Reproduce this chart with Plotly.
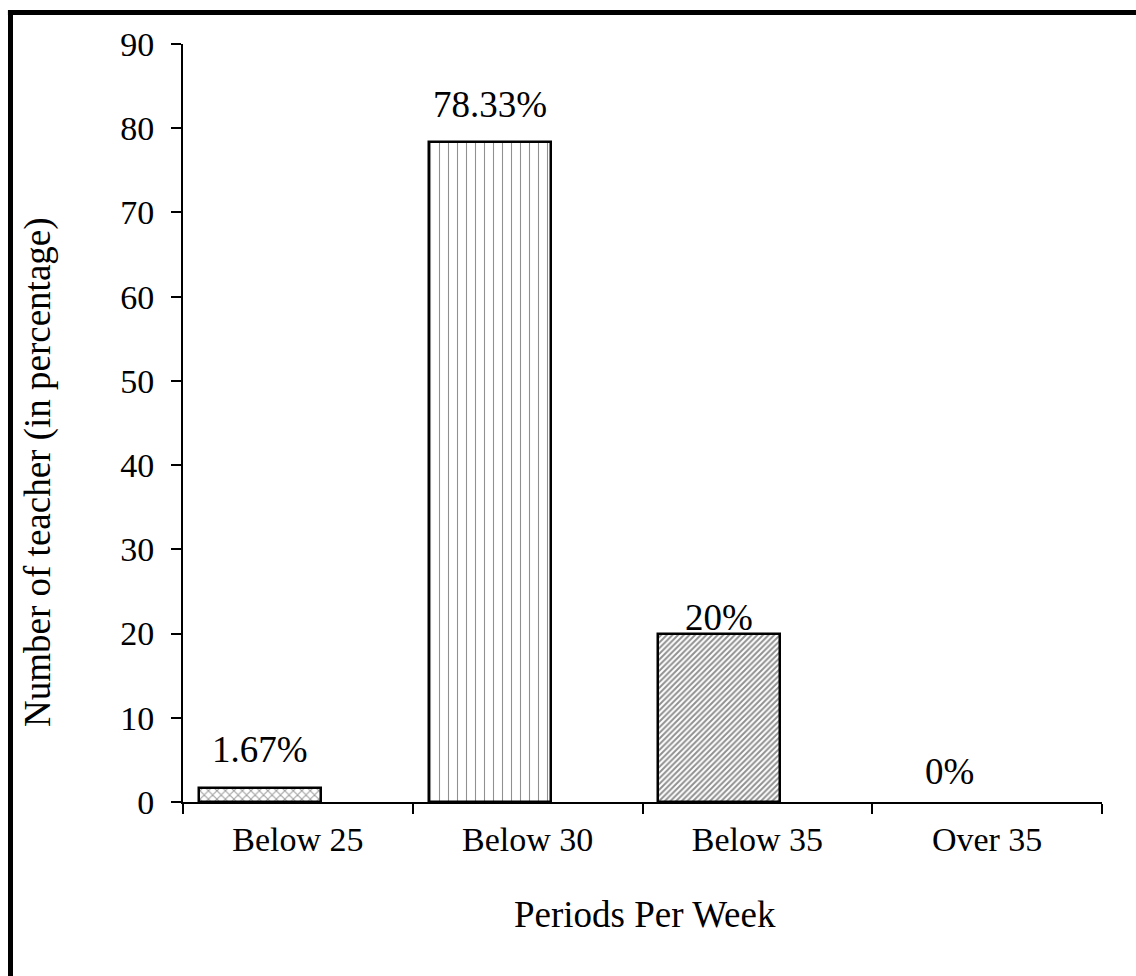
import plotly.graph_objects as go

# Data
categories = ["Below 25", "Below 30", "Below 35", "Over 35"]
percentages = [1.67, 78.33, 20, 0]
label_texts = ["1.67%", "78.33%", "20%", "0%"]
y_ticks = [0, 10, 20, 30, 40, 50, 60, 70, 80, 90]

FONT = "Liberation Serif, Times New Roman, serif"

# Bar fill patterns per category
pattern_shapes = ["x", "|", "/", ""]
pattern_fg = ["#333333", "#222222", "#222222", "#333333"]
pattern_size = [6, 9, 4, 6]
pattern_solidity = [0.3, 0.12, 0.5, 0.3]
outline_widths = [2.5 if v > 0 else 0 for v in percentages]

fig = go.Figure()
fig.add_trace(go.Bar(
    x=categories,
    y=percentages,
    offset=-0.431,
    width=0.531,
    marker=dict(
        color="white",
        line=dict(color="black", width=outline_widths),
        pattern=dict(
            shape=pattern_shapes,
            fgcolor=pattern_fg,
            bgcolor="white",
            size=pattern_size,
            solidity=pattern_solidity,
            fillmode="overlay",
        ),
    ),
    showlegend=False,
    hoverinfo="skip",
))

# Value labels above the bars (pixel shift per label)
label_shift = [38, 38, 16, 31]
for i, (v, t) in enumerate(zip(percentages, label_texts)):
    fig.add_annotation(
        x=i - 0.1655, y=v, xref="x", yref="y",
        text=t, showarrow=False, yanchor="middle", yshift=label_shift[i],
        font=dict(family=FONT, size=37, color="black"),
    )

# Axis titles
fig.add_annotation(
    x=0.5027, y=-0.149, xref="paper", yref="paper",
    text="Periods Per Week", showarrow=False,
    xanchor="center", yanchor="middle",
    font=dict(family=FONT, size=37, color="black"),
)
fig.add_annotation(
    x=-0.1578, y=0.4354, xref="paper", yref="paper",
    text="Number of teacher (in percentage)", showarrow=False, textangle=-90,
    xanchor="center", yanchor="middle",
    font=dict(family=FONT, size=37, color="black"),
)

# Outer frame (left and top edges visible)
fig.add_shape(type="line", xref="paper", yref="paper",
              x0=-0.1877, x1=-0.1877, y0=1.0416, y1=-0.3,
              line=dict(color="black", width=5))
fig.add_shape(type="line", xref="paper", yref="paper",
              x0=-0.1905, x1=1.1, y0=1.0416, y1=1.0416,
              line=dict(color="black", width=5))

fig.update_layout(
    width=1136, height=976,
    margin=dict(l=183, r=34, t=44, b=174),
    paper_bgcolor="white", plot_bgcolor="white",
    font=dict(family=FONT, color="black"),
    bargap=0,
    xaxis=dict(
        type="category",
        showline=True, linecolor="black", linewidth=2,
        ticks="outside", ticklen=10, tickwidth=2, tickcolor="black",
        tickson="boundaries",
        showgrid=False, zeroline=False,
        ticklabelstandoff=6,
        tickfont=dict(family=FONT, size=34, color="black"),
    ),
    yaxis=dict(
        range=[0, 90],
        tickvals=y_ticks,
        showline=True, linecolor="black", linewidth=2,
        ticks="outside", ticklen=10, tickwidth=2, tickcolor="black",
        showgrid=False, zeroline=False,
        ticklabelstandoff=10,
        tickfont=dict(family=FONT, size=34, color="black"),
    ),
)

fig.write_html("out.html")
